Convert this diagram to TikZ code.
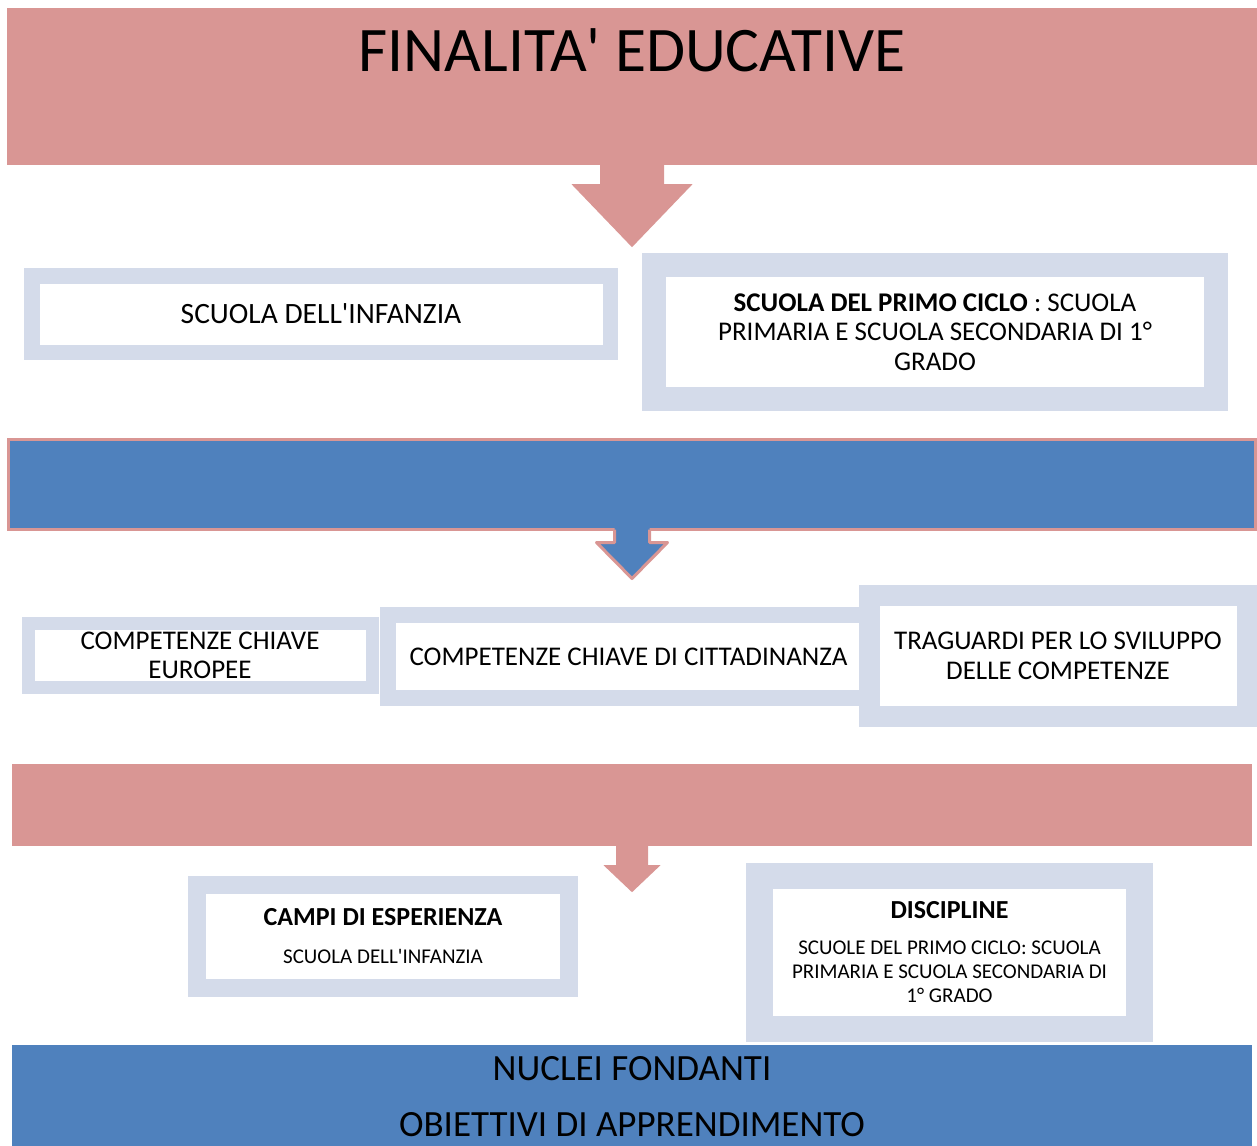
\documentclass[tikz,border=0pt]{standalone}
\usepackage{fontspec}
\setmainfont{Carlito}

\definecolor{rosa}{HTML}{D99694}
\definecolor{blu}{HTML}{4F81BD}
\definecolor{cornice}{HTML}{D4DBEA}

\tikzset{
  fascia/.style={fill=#1, inner sep=0pt},
  riquadro/.style={draw=cornice, fill=white, line width=#1, inner sep=0pt, align=center},
  testo/.style={font=\fontsize{27}{29.5}\selectfont},
  piccolo/.style={font=\fontsize{21}{24}\selectfont}
}

\begin{document}
\begin{tikzpicture}[x=1pt,y=-1pt]
    \useasboundingbox (0,0) rectangle (1257,1145);
    % fasce
    \node[fascia=rosa, minimum width=1250pt, minimum height=157pt] (fin) at (632,86.5) {};
    \node[font=\fontsize{63.5}{70}\selectfont] (fintit) at (632,50) {FINALITA\textquotesingle{} EDUCATIVE};
    \node[fascia=blu, draw=rosa, line width=3pt, minimum width=1247pt, minimum height=90pt] (comp) at (632,484.5) {};
    \node[fascia=rosa, minimum width=1240pt, minimum height=82pt] (ordini) at (632,805) {};
    \node[fascia=blu, minimum width=1240pt, minimum height=104pt, align=center,
      font=\fontsize{37}{56}\selectfont] (nuclei) at (632,1097) {NUCLEI FONDANTI\\OBIETTIVI DI APPRENDIMENTO};
    % scuole
    \node[riquadro=15.5pt, minimum width=578.5pt, minimum height=76.5pt, font=\fontsize{29.5}{30}\selectfont]
      (infanzia) at (321,314) {SCUOLA DELL\textquotesingle INFANZIA};
    \node[riquadro=24pt, minimum width=562pt, minimum height=134.5pt, testo] (primo) at (935,332)
      {\textbf{SCUOLA DEL PRIMO CICLO} : SCUOLA\\PRIMARIA E SCUOLA SECONDARIA DI 1°\\GRADO};
    % competenze
    \node[riquadro=13pt, minimum width=344pt, minimum height=64pt, testo] (europee) at (200,655.5)
      {COMPETENZE CHIAVE\\EUROPEE};
    \node[riquadro=16pt, minimum width=481pt, minimum height=83pt, testo] (citt) at (628.5,656.5)
      {COMPETENZE CHIAVE DI CITTADINANZA};
    \node[riquadro=20.5pt, minimum width=377.5pt, minimum height=121pt, testo] (traguardi) at (1058,656)
      {TRAGUARDI PER LO SVILUPPO\\DELLE COMPETENZE};
    % campi e discipline
    \node[riquadro=18pt, minimum width=372pt, minimum height=103pt, piccolo] (campi) at (383,936.5)
      {\textbf{\fontsize{26}{24}\selectfont CAMPI DI ESPERIENZA}\\[14pt]SCUOLA DELL\textquotesingle INFANZIA};
    \node[riquadro=26.5pt, minimum width=380pt, minimum height=153pt, piccolo] (discipline) at (949.5,952.5)
      {\textbf{\fontsize{26}{24}\selectfont DISCIPLINE}\\[12pt]SCUOLE DEL PRIMO CICLO: SCUOLA\\PRIMARIA E SCUOLA SECONDARIA DI\\1° GRADO};
    % frecce
    \fill[rosa] ([xshift=-32pt]fin.south) -- ++(0,19) -- ++(-28.5,0) -- ++(60.5,63)
      -- ++(60.5,-63) -- ++(-28.5,0) -- ++(0,-19) -- cycle;
    \fill[blu] ([xshift=-17.5pt,yshift=3pt]comp.south) -- ++(0,14.5) -- ++(-18,0) -- ++(35.5,36)
      -- ++(35.5,-36) -- ++(-18,0) -- ++(0,-14.5) -- cycle;
    \draw[rosa, line width=3pt, line join=round] ([xshift=-17.5pt,yshift=1.5pt]comp.south) -- ++(0,13)
      -- ++(-18,0) -- ++(35.5,36) -- ++(35.5,-36) -- ++(-18,0) -- ++(0,-13);
    \fill[rosa] ([xshift=-16pt]ordini.south) -- ++(0,19) -- ++(-12.5,0) -- ++(28.5,27)
      -- ++(28.5,-27) -- ++(-12.5,0) -- ++(0,-19) -- cycle;
\end{tikzpicture}
\end{document}
